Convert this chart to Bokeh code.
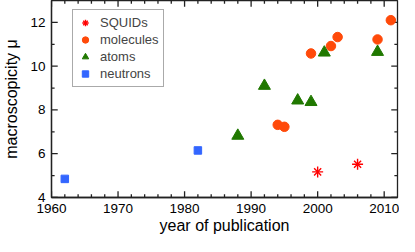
from bokeh.plotting import figure
from bokeh.models import SingleIntervalTicker, Legend, LegendItem, Range1d
from bokeh.embed import file_html
from bokeh.resources import INLINE

# data
squid_year = [2000, 2006]
squid_mu = [5.17, 5.52]
mol_year = [1994, 1995, 1999, 2002, 2003, 2009, 2011]
mol_mu = [7.32, 7.23, 10.58, 10.92, 11.33, 11.22, 12.1]
atom_year = [1988, 1992, 1997, 1999, 2001, 2009]
atom_mu = [6.82, 9.1, 8.43, 8.36, 10.62, 10.65]
neutron_year = [1962, 1982]
neutron_mu = [4.85, 6.15]

# axis ranges and ticks
x_min, x_max = 1960, 2012
y_min, y_max = 4, 13
x_major = [1960, 1970, 1980, 1990, 2000, 2010]
x_minor = [y for y in range(1962, 2012, 2) if y % 10 != 0]
y_major = [4, 6, 8, 10, 12]
y_minor = [5, 7, 9, 11]

FONT = "Liberation Sans"
AX = "#222222"

p = figure(width=399, height=236, output_backend="svg", toolbar_location=None,
           x_range=Range1d(x_min, x_max), y_range=Range1d(y_min, y_max),
           min_border_left=45, min_border_right=2, min_border_top=0, min_border_bottom=20,
           x_axis_label="year of publication", y_axis_label="macroscopicity μ")
p.xgrid.visible = False
p.ygrid.visible = False
p.outline_line_color = AX
p.outline_line_width = 1.3


def style(ax):
    ax.axis_line_color = AX
    ax.axis_line_width = 1.3
    ax.major_tick_in = 0
    ax.major_tick_out = 0
    ax.minor_tick_in = 0
    ax.minor_tick_out = 0
    ax.major_label_text_font = FONT
    ax.axis_label_text_font = FONT
    ax.axis_label_text_font_style = "normal"
    ax.axis_label_text_font_size = "16px"
    ax.axis_label_text_color = "black"
    ax.major_label_text_color = "black"
    ax.major_label_text_font_size = "13.5px"


xa = p.xaxis[0]
xa.ticker = SingleIntervalTicker(interval=10)
style(xa)
xa.major_label_standoff = 6
xa.axis_label_standoff = 1
ya = p.yaxis[0]
ya.ticker = SingleIntervalTicker(interval=2)
style(ya)
ya.major_label_standoff = 6
ya.axis_label_standoff = 7

# inward ticks on all four sides: short segments from the frame edges
x_span = x_max - x_min
y_span = y_max - y_min
for xs, frac in ((x_major, 0.032), (x_minor, 0.016)):
    n = len(xs)
    p.segment(x0=xs, y0=[y_min] * n, x1=xs, y1=[y_min + frac * y_span] * n,
              line_color=AX, line_width=1.3)
    p.segment(x0=xs, y0=[y_max] * n, x1=xs, y1=[y_max - frac * y_span] * n,
              line_color=AX, line_width=1.3)
for ys, frac in ((y_major, 0.018), (y_minor, 0.009)):
    n = len(ys)
    p.segment(x0=[x_min] * n, y0=ys, x1=[x_min + frac * x_span] * n, y1=ys,
              line_color=AX, line_width=1.3)
    p.segment(x0=[x_max] * n, y0=ys, x1=[x_max - frac * x_span] * n, y1=ys,
              line_color=AX, line_width=1.3)

r_sq1 = p.scatter(squid_year, squid_mu, marker="cross", size=11, line_color="#ff0000", line_width=1.4)
r_sq2 = p.scatter(squid_year, squid_mu, marker="x", size=10, line_color="#ff0000", line_width=1.4)
r_mol = p.scatter(mol_year, mol_mu, marker="circle", size=9.5, fill_color="#ff4a0a", line_color="#ff4a0a")
r_atom = p.scatter(atom_year, atom_mu, marker="triangle", size=12, fill_color="#207800", line_color="#207800")
r_neu = p.scatter(neutron_year, neutron_mu, marker="square", size=7.5, fill_color="#3366ff", line_color="#3366ff")

legend = Legend(items=[
    LegendItem(label="SQUIDs", renderers=[r_sq1, r_sq2]),
    LegendItem(label="molecules", renderers=[r_mol]),
    LegendItem(label="atoms", renderers=[r_atom]),
    LegendItem(label="neutrons", renderers=[r_neu]),
], location=(21, 110))
legend.border_line_color = "#555555"
legend.border_line_width = 1
legend.background_fill_color = "white"
legend.background_fill_alpha = 1
legend.label_text_font = FONT
legend.label_text_font_size = "13px"
legend.glyph_width = 16
legend.glyph_height = 17
legend.label_height = 17
legend.spacing = 0
legend.padding = 4
legend.margin = 0
legend.label_standoff = 7
p.add_layout(legend, "center")

open("out.html", "w").write(file_html(p, INLINE))
